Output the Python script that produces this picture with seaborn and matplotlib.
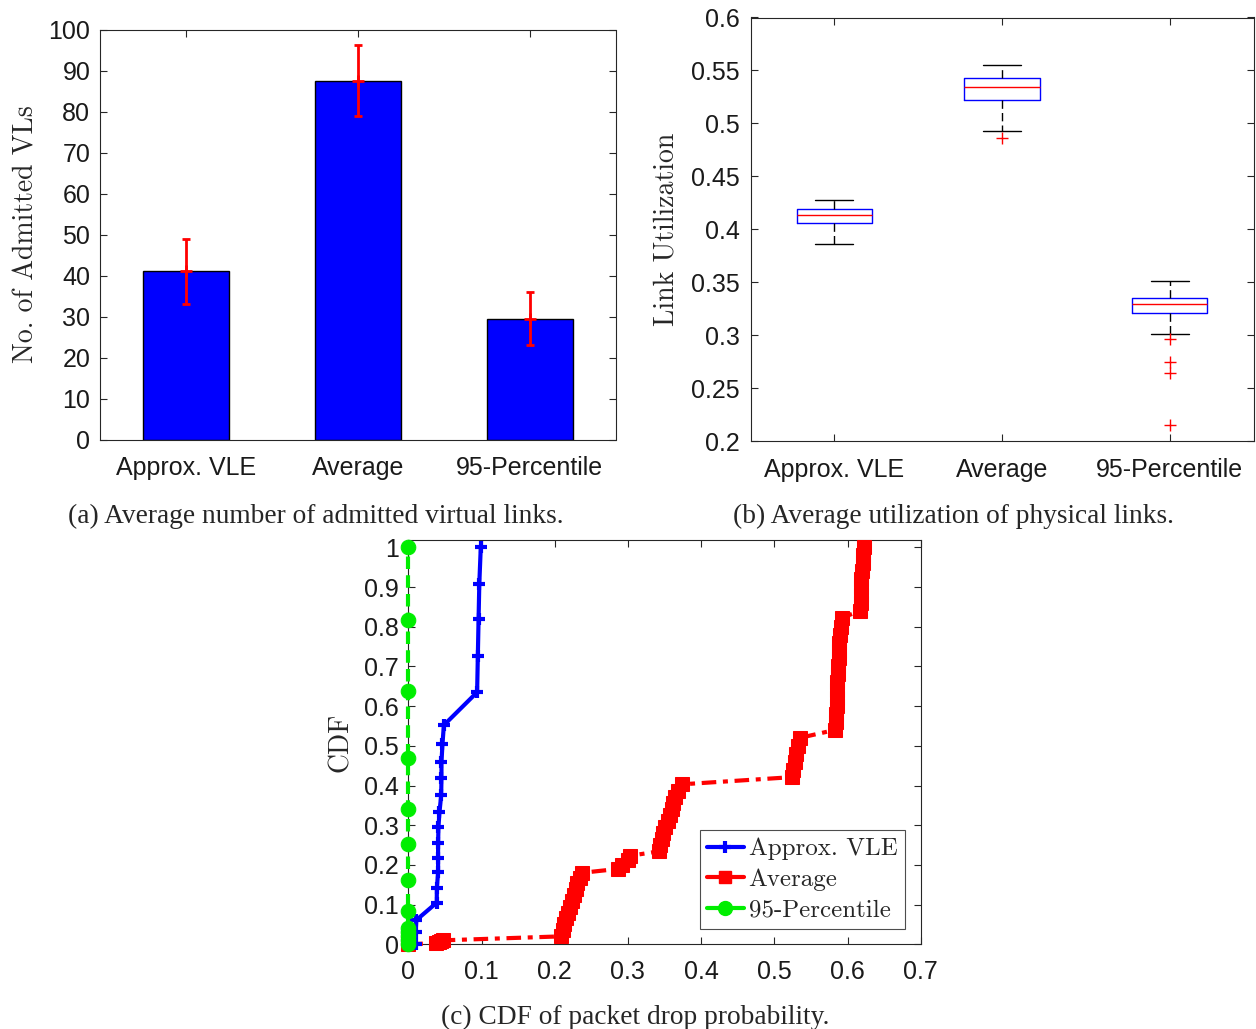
import numpy as np
import pandas as pd
import matplotlib
matplotlib.use("Agg")
import matplotlib.pyplot as plt
from matplotlib.lines import Line2D
from matplotlib.ticker import FormatStrFormatter, MultipleLocator
import seaborn as sns

# ---------------- data ----------------
categories = ["Approx. VLE", "Average", "95-Percentile"]

# (a) admitted virtual links
admitted_mean = [41.0, 87.5, 29.5]
admitted_err = [8.0, 8.6, 6.5]

# (b) link utilization samples (whiskers, quartiles, median, outliers)
util_vle = [0.386, 0.400, 0.4057, 0.410, 0.4138, 0.417, 0.4194, 0.423, 0.4274]
util_avg = [0.4861, 0.4925, 0.5217, 0.528, 0.5345, 0.538, 0.5430, 0.550, 0.5547]
util_p95 = [0.2154, 0.2644, 0.2745, 0.2965, 0.3015, 0.3208, 0.3230, 0.3250, 0.3265,
            0.3280, 0.3295, 0.3305, 0.3315, 0.3325, 0.3335, 0.3349, 0.3380, 0.3420,
            0.3460, 0.3490, 0.3515]

# (c) CDF of packet drop probability
cdf_vle_x = [0.010, 0.010, 0.011, 0.0389, 0.039, 0.0407, 0.0407, 0.0407, 0.0412, 0.0426,
             0.0449, 0.0453, 0.0453, 0.0467, 0.0486, 0.094, 0.095, 0.096, 0.097, 0.099]
cdf_vle_y = [0.0, 0.03, 0.061, 0.105, 0.141, 0.181, 0.217, 0.254, 0.296, 0.333,
             0.375, 0.418, 0.458, 0.505, 0.552, 0.635, 0.726, 0.819, 0.908, 1.0]

cdf_avg_x = [0.0, 0.038, 0.042, 0.045, 0.048,
             0.209, 0.211, 0.213, 0.216, 0.218, 0.221, 0.224, 0.226, 0.229, 0.231, 0.234, 0.237,
             0.287, 0.292, 0.300, 0.303,
             0.342, 0.344, 0.346, 0.348, 0.351, 0.355, 0.358, 0.360, 0.362, 0.365, 0.369, 0.374,
             0.5235, 0.526, 0.528, 0.530, 0.532, 0.535,
             0.583, 0.584, 0.584, 0.585, 0.585, 0.586, 0.586, 0.587, 0.587, 0.588, 0.589, 0.589,
             0.590, 0.591, 0.592,
             0.617, 0.618, 0.618, 0.619, 0.619, 0.620, 0.621, 0.621, 0.622]
cdf_avg_y = [0.0, 0.003, 0.006, 0.008, 0.010,
             0.020, 0.035, 0.050, 0.065, 0.080, 0.095, 0.110, 0.125, 0.140, 0.155, 0.168, 0.180,
             0.190, 0.200, 0.213, 0.223,
             0.234, 0.250, 0.265, 0.280, 0.295, 0.310, 0.325, 0.340, 0.355, 0.370, 0.385, 0.403,
             0.421, 0.440, 0.460, 0.480, 0.500, 0.520,
             0.540, 0.560, 0.580, 0.600, 0.620, 0.640, 0.660, 0.680, 0.700, 0.720, 0.740, 0.760,
             0.780, 0.800, 0.822,
             0.840, 0.860, 0.880, 0.900, 0.920, 0.940, 0.960, 0.980, 1.000]

cdf_p95_x = [0.0, 0.0, 0.0, 0.0, 0.0, 0.0, 0.0, 0.0, 0.0, 0.0, 0.0, 0.0, 0.0]
cdf_p95_y = [0.0, 0.01, 0.02, 0.03, 0.04, 0.084, 0.162, 0.252, 0.340, 0.470, 0.637, 0.817, 1.0]

captions = ["(a) Average number of admitted virtual links.",
            "(b) Average utilization of physical links.",
            "(c) CDF of packet drop probability."]

# ---------------- style ----------------
sns.set_style("white")
plt.rcParams["font.family"] = ["Liberation Sans", "DejaVu Sans"]
plt.rcParams["axes.edgecolor"] = "0.15"
plt.rcParams["axes.linewidth"] = 0.8

W, H = 1256, 1029
fig = plt.figure(figsize=(W / 100, H / 100), dpi=100)

def px_axes(left, top, right, bottom):
    return fig.add_axes([left / W, 1 - bottom / H, (right - left) / W, (bottom - top) / H])

ax1 = px_axes(100, 29.5, 615.5, 439.5)
ax2 = px_axes(750.5, 17.5, 1253.5, 441.3)
ax3 = px_axes(408.3, 540, 920.7, 944.3)

label_font = dict(family="cmr10", size=20)
tick_kw = dict(direction="in", length=5, width=0.8, color="0.15",
               labelsize=18, labelcolor="0.1")

# ---------------- (a) bar chart ----------------
sns.barplot(x=categories, y=admitted_mean, order=categories, color="blue", saturation=1,
            width=0.5, edgecolor="black", linewidth=1, errorbar=None, ax=ax1)
ax1.errorbar(x=np.arange(len(categories)), y=admitted_mean, yerr=admitted_err, fmt="+",
             color="red", ecolor="red", elinewidth=2, capsize=3, capthick=2, ms=8, mew=2,
             zorder=5)
ax1.set_xlim(-0.5, 2.5)
ax1.set_ylim(0, 100)
ax1.yaxis.set_major_locator(MultipleLocator(10))
ax1.tick_params(axis="both", top=True, right=True, bottom=True, left=True, **tick_kw)
ax1.tick_params(axis="y", pad=7)
ax1.tick_params(axis="x", pad=12)
ax1.set_ylabel("No. of Admitted VLs", **label_font)
ax1.yaxis.set_label_coords(-0.118, 0.5)
ax1.set_xlabel("")

# ---------------- (b) box plot ----------------
df_util = pd.DataFrame({
    "method": [categories[0]] * len(util_vle) + [categories[1]] * len(util_avg)
              + [categories[2]] * len(util_p95),
    "util": util_vle + util_avg + util_p95,
})
sns.boxplot(data=df_util, x="method", y="util", order=categories, width=0.45, whis=1.5,
            fill=False, color="blue", linewidth=1, ax=ax2,
            boxprops=dict(color="blue", linewidth=1),
            medianprops=dict(color="red", linewidth=1),
            whiskerprops=dict(color="black", linewidth=1, linestyle=(0, (6, 3))),
            capprops=dict(color="black", linewidth=1),
            flierprops=dict(marker="+", markeredgecolor="red", markerfacecolor="red",
                            markersize=8, markeredgewidth=1))
ax2.set_xlim(-0.5, 2.5)
ax2.set_ylim(0.2, 0.6)
ax2.yaxis.set_major_locator(MultipleLocator(0.05))
ax2.yaxis.set_major_formatter(FormatStrFormatter("%g"))
ax2.tick_params(axis="both", top=True, right=True, bottom=True, left=True, **tick_kw)
ax2.tick_params(axis="y", pad=8)
ax2.tick_params(axis="x", pad=12)
ax2.set_xlabel("")
ax2.set_ylabel("Link Utilization", **label_font)
ax2.yaxis.set_label_coords(-0.142, 0.5)

# ---------------- (c) CDF ----------------
sns.lineplot(x=cdf_avg_x, y=cdf_avg_y, sort=False, estimator=None, color="red",
             linewidth=3, linestyle=(0, (3.5, 1.6, 1.2, 1.6)), marker="s", markersize=10,
             markeredgecolor="red", clip_on=False, ax=ax3, zorder=3)
sns.lineplot(x=cdf_vle_x, y=cdf_vle_y, sort=False, estimator=None, color="blue",
             linewidth=3, marker="+", markersize=8, markeredgewidth=3,
             markeredgecolor="blue", clip_on=False, ax=ax3, zorder=4)
sns.lineplot(x=cdf_p95_x, y=cdf_p95_y, sort=False, estimator=None, color="#00ee00",
             linewidth=3, linestyle=(0, (3, 1.5)), marker="o", markersize=10.5,
             markeredgecolor="#00ee00", clip_on=False, ax=ax3, zorder=5)
ax3.set_xlim(0, 0.7)
ax3.set_ylim(0, 1.0184)
ax3.xaxis.set_major_locator(MultipleLocator(0.1))
ax3.yaxis.set_major_locator(MultipleLocator(0.1))
ax3.xaxis.set_major_formatter(FormatStrFormatter("%g"))
ax3.yaxis.set_major_formatter(FormatStrFormatter("%g"))
ax3.tick_params(axis="both", top=True, right=True, bottom=True, left=True, **tick_kw)
ax3.tick_params(axis="y", pad=7)
ax3.tick_params(axis="x", pad=11)
ax3.set_ylabel("CDF", **label_font)
ax3.yaxis.set_label_coords(-0.106, 0.5)

handles = [
    Line2D([], [], color="blue", lw=3, marker="+", ms=8, mew=3),
    Line2D([], [], color="red", lw=3, marker="s", ms=9),
    Line2D([], [], color="#00ee00", lw=3, marker="o", ms=10),
]
leg = ax3.legend(handles, categories, loc="lower right", bbox_to_anchor=(0.969, 0.038),
                 prop=dict(family="cmr10", size=18), frameon=True, fancybox=False,
                 framealpha=1, edgecolor="0.3", handlelength=1.45, handletextpad=0.2,
                 labelspacing=0.32, borderpad=0.3, borderaxespad=0)
leg.get_frame().set_linewidth(0.8)

# ---------------- captions ----------------
cap_font = dict(family="Liberation Serif", size=19.7, ha="center", va="center")
fig.text(316 / W, 1 - 516 / H, captions[0], **cap_font)
fig.text(953 / W, 1 - 516 / H, captions[1], **cap_font)
fig.text(635 / W, 1 - 1017 / H, captions[2], **cap_font)

fig.savefig("out.png", dpi=100)
